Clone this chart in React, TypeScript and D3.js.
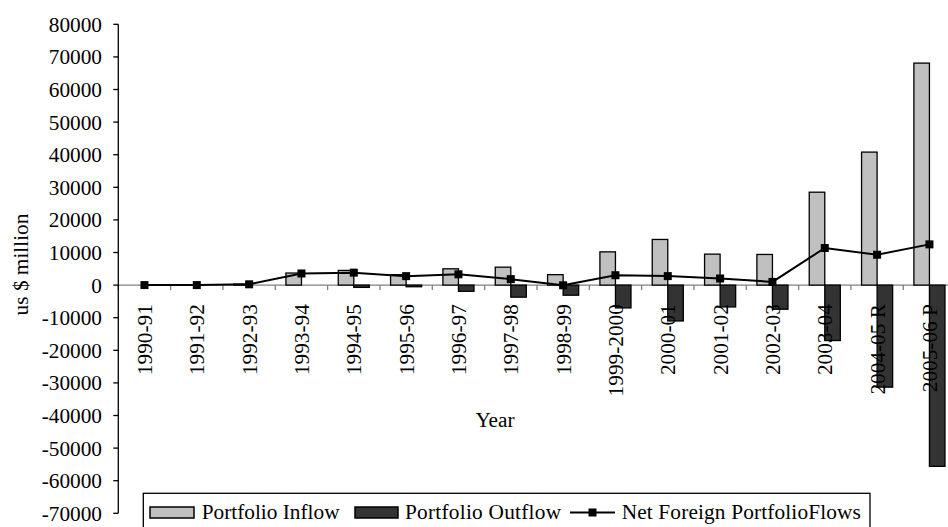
import React from "react";
import * as d3 from "d3";

// Financial years on the category axis
const years: string[] = [
  "1990-91", "1991-92", "1992-93", "1993-94", "1994-95", "1995-96",
  "1996-97", "1997-98", "1998-99", "1999-2000", "2000-01", "2001-02",
  "2002-03", "2003-04", "2004-05 R", "2005-06 P",
];

// US$ million
const portfolioInflow: number[] = [
  0, 0, 300, 3700, 4500, 3200, 5000, 5500, 3200, 10200, 14000, 9500,
  9400, 28500, 40800, 68100,
];
const portfolioOutflow: number[] = [
  0, 0, 0, 0, -700, -500, -1900, -3700, -3100, -7000, -11000, -6700,
  -7400, -17000, -31300, -55600,
];
const netPortfolioFlows: number[] = [
  6, 4, 244, 3567, 3824, 2748, 3312, 1828, -61, 3026, 2760, 2021,
  979, 11377, 9315, 12492,
];

const yTicks: number[] = d3.range(-70000, 80001, 10000);

const W = 948;
const H = 527;
const FONT = "Liberation Serif, DejaVu Serif, Times New Roman, serif";
const FS = 21.3;

const INFLOW_FILL = "#c0c0c0";
const OUTFLOW_FILL = "#333333";

const txt: React.CSSProperties = { fontFamily: FONT, fontSize: FS };

export default function App() {
  const plotLeft = 118.3;
  const plotRight = 955.6;
  const plotTop = 24.3;
  const plotBottom = 513.3;

  const x = d3.scaleBand<string>().domain(years).range([plotLeft, plotRight]).padding(0);
  const y = d3.scaleLinear().domain([-70000, 80000]).range([plotBottom, plotTop]);
  const bw = x.bandwidth() * 0.297;
  const cx = (c: string) => (x(c) as number) + x.bandwidth() / 2;
  const y0 = y(0);

  const line = d3
    .line<number>()
    .x((_, i) => cx(years[i]))
    .y((d) => y(d));

  const boundaries = years.map((c) => x(c) as number).concat([plotRight]);

  // legend geometry
  const lgTop = 493.3;
  const lgMid = 512.5;
  const lgBase = 518.5;

  return (
    <svg
      width={W}
      height={H}
      style={{ position: "absolute", left: 0, top: 0, background: "#fff", fontFamily: FONT }}
    >
      <rect x={0} y={0} width={W} height={H} fill="#fff" />

      {/* zero line with category ticks */}
      <line x1={plotLeft} x2={plotRight} y1={y0} y2={y0} stroke="#808080" strokeWidth={1.3} />
      {boundaries.map((b, i) => (
        <line key={"xt" + i} x1={b} x2={b} y1={y0} y2={y0 + 5} stroke="#808080" strokeWidth={1.3} />
      ))}

      {/* inflow bars */}
      {portfolioInflow.map((v, i) =>
        v > 0 ? (
          <rect
            key={"in" + i}
            x={cx(years[i]) - bw}
            y={y(v)}
            width={bw}
            height={y0 - y(v)}
            fill={INFLOW_FILL}
            stroke="#000"
            strokeWidth={1.3}
          />
        ) : null
      )}

      {/* outflow bars */}
      {portfolioOutflow.map((v, i) =>
        v < 0 ? (
          <rect
            key={"out" + i}
            x={cx(years[i])}
            y={y0}
            width={bw}
            height={y(v) - y0}
            fill={OUTFLOW_FILL}
            stroke="#000"
            strokeWidth={1.3}
          />
        ) : null
      )}

      {/* net flows line */}
      <path d={line(netPortfolioFlows) || ""} fill="none" stroke="#000" strokeWidth={2} />
      {netPortfolioFlows.map((v, i) => (
        <rect key={"m" + i} x={cx(years[i]) - 4} y={y(v) - 4} width={8} height={8} fill="#000" />
      ))}

      {/* y axis */}
      <line x1={plotLeft} x2={plotLeft} y1={plotTop} y2={plotBottom} stroke="#000" strokeWidth={1.3} />
      {yTicks.map((t) => (
        <g key={"yt" + t}>
          <line x1={plotLeft - 5} x2={plotLeft} y1={y(t)} y2={y(t)} stroke="#000" strokeWidth={1.3} />
          <text x={102} y={y(t)} dy="0.35em" textAnchor="end" style={txt} fill="#000">
            {t}
          </text>
        </g>
      ))}

      {/* category labels */}
      {years.map((c) => (
        <text
          key={"xl" + c}
          transform={`translate(${cx(c)},${y0 + 19}) rotate(-90)`}
          dy="0.35em"
          textAnchor="end"
          style={txt}
          fill="#000"
        >
          {c}
        </text>
      ))}

      {/* axis titles */}
      <text x={495} y={427.3} textAnchor="middle" style={txt} fill="#000">
        Year
      </text>
      <text
        transform="translate(27.5,264.5) rotate(-90)"
        textAnchor="middle"
        style={txt}
        fill="#000"
      >
        us $ million
      </text>

      {/* legend */}
      <rect x={143.3} y={lgTop} width={726.7} height={45} fill="#fff" stroke="#000" strokeWidth={1.3} />
      <rect x={150} y={507} width={44} height={11} fill={INFLOW_FILL} stroke="#000" strokeWidth={1.5} />
      <text x={201.7} y={lgBase} style={txt} fill="#000">
        Portfolio Inflow
      </text>
      <rect x={355} y={507} width={43} height={11} fill={OUTFLOW_FILL} stroke="#000" strokeWidth={1.5} />
      <text x={405} y={lgBase} style={{ ...txt, letterSpacing: 0.25 }} fill="#000">
        Portfolio Outflow
      </text>
      <line x1={570} x2={615} y1={lgMid} y2={lgMid} stroke="#000" strokeWidth={2} />
      <rect x={588.5} y={lgMid - 4} width={8} height={8} fill="#000" />
      <text x={621.7} y={lgBase} style={{ ...txt, letterSpacing: 0.15 }} fill="#000">
        Net Foreign PortfolioFlows
      </text>
    </svg>
  );
}
